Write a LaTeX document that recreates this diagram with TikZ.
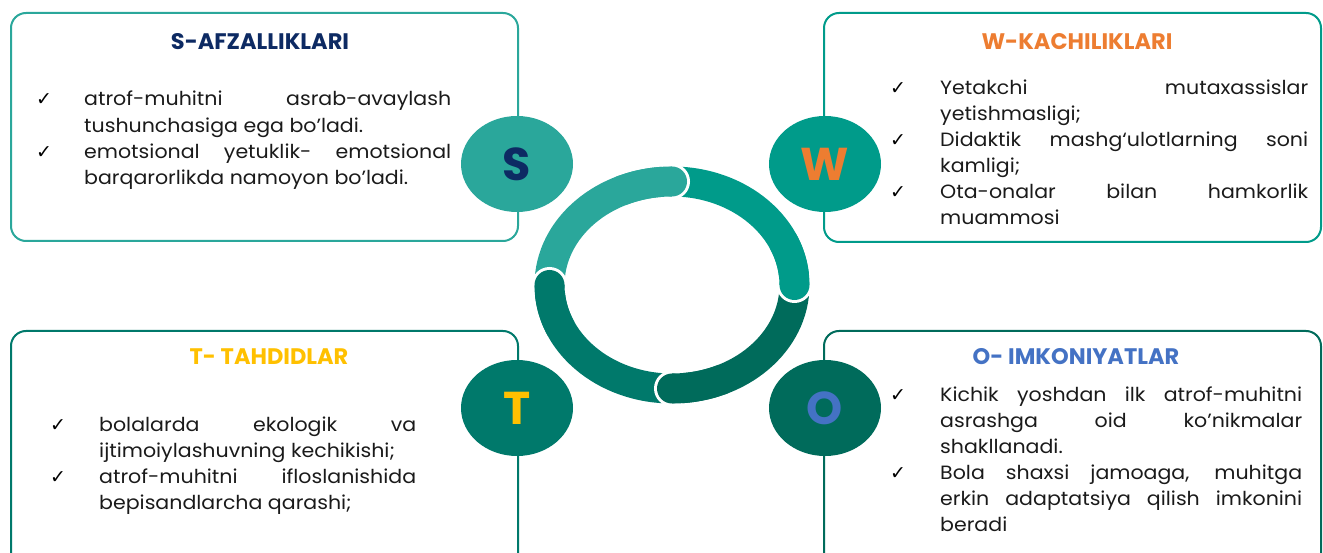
\documentclass[tikz,border=0pt]{standalone}
\usepackage{fontspec}
\setmainfont{Poppins}[Ligatures=NoCommon]
\newfontfamily\bodyfont{Poppins}[Ligatures=NoCommon, FakeStretch=1.07]
\newfontfamily\symfont{DejaVu Sans}
\usetikzlibrary{shapes.geometric}
\definecolor{cS}{HTML}{2AA79B}
\definecolor{cW}{HTML}{009B8A}
\definecolor{cT}{HTML}{00796B}
\definecolor{cO}{HTML}{006B5B}
\definecolor{tS}{HTML}{0D2A63}
\definecolor{tW}{HTML}{ED7D31}
\definecolor{tT}{HTML}{FFC000}
\definecolor{tO}{HTML}{4472C4}
\definecolor{txt}{HTML}{1A1A1A}
\hyphenpenalty=10000
\exhyphenpenalty=10000
\tolerance=10000
\begin{document}
\begin{tikzpicture}[x=1pt,y=-1pt,
  panel/.style={line width=2pt, rounded corners=15pt},
  ttl/.style={font=\fontsize{22.5}{26}\selectfont\bfseries, anchor=base, inner sep=0},
  body/.style={font=\bodyfont\fontsize{19.2}{26.1}\selectfont, text=txt, anchor=base west, inner sep=0, align=justify},
  chk/.style={font=\symfont\fontsize{19}{19}\selectfont, anchor=base, inner sep=0},
  badge/.style={ellipse, minimum width=112pt, minimum height=96pt, inner sep=0, font=\fontsize{46}{46}\selectfont\bfseries},
  seg/.style={line width=30pt}
]
\useasboundingbox (0,0) rectangle (1323,553);
\clip (0,0) rectangle (1323,553);
% panels
\draw[panel, draw=cS] (11,13) rectangle (518,241);
\draw[panel, draw=cW] (824,13) rectangle (1321,242);
\draw[panel, draw=cT] (11,331) rectangle (518,570);
\draw[panel, draw=cO] (824,331) rectangle (1321,570);
% titles
\node[ttl, text=tS] (ts) at (260,50) {S-AFZALLIKLARI};
\node[ttl, text=tW] (tw) at (1077,50) {W-KACHILIKLARI};
\node[ttl, text=tT] (tt) at (269,364) {T- TAHDIDLAR};
\node[ttl, text=tO] (to) at (1076,364) {O- IMKONIYATLAR};
% S items
\node[chk] (cs1) at (44,106) {✓};
\node[body, text width=367pt] (s1) at (84,106) {atrof-muhitni asrab-avaylash\linebreak tushunchasiga ega bo’ladi.};
\node[chk] (cs2) at (44,158.2) {✓};
\node[body, text width=367pt] (s2) at (84,158.2) {emotsional yetuklik- emotsional\linebreak barqarorlikda namoyon bo’ladi.};
% W items
\node[chk] (cw1) at (898,94.5) {✓};
\node[body, text width=368pt] (w1) at (940,94.5) {Yetakchi mutaxassislar\linebreak yetishmasligi;};
\node[chk] (cw2) at (898,146.7) {✓};
\node[body, text width=368pt] (w2) at (940,146.7) {Didaktik mashg‘ulotlarning soni\linebreak kamligi;};
\node[chk] (cw3) at (898,198.9) {✓};
\node[body, text width=368pt] (w3) at (940,198.9) {Ota-onalar bilan hamkorlik\linebreak muammosi};
% T items
\node[chk] (ct1) at (58,431.5) {✓};
\node[body, text width=317pt] (t1) at (99,431.5) {bolalarda ekologik va\linebreak ijtimoiylashuvning kechikishi;};
\node[chk] (ct2) at (58,483.7) {✓};
\node[body, text width=317pt] (t2) at (99,483.7) {atrof-muhitni ifloslanishida\linebreak bepisandlarcha qarashi;};
% O items
\node[chk] (co1) at (898,401) {✓};
\node[body, text width=362pt] (o1) at (940,401) {Kichik yoshdan ilk atrof-muhitni\linebreak asrashga oid ko’nikmalar\linebreak shakllanadi.};
\node[chk] (co2) at (898,479.3) {✓};
\node[body, text width=362pt] (o2) at (940,479.3) {Bola shaxsi jamoaga, muhitga\linebreak erkin adaptatsiya qilish imkonini\linebreak beradi};
% badges
\node[badge, fill=cS, text=tS] (bS) at (517,164) {S};
\node[badge, fill=cW, text=tW] (bW) at (825,164) {W};
\node[badge, fill=cT, text=tT] (bT) at (517,408) {T};
\node[badge, fill=cO, text=tO] (bO) at (825,408) {O};
% ring (centre 672,285; mid radii 122.5 x 103.5)
\def\ra{122.5}\def\rb{103.5}
\coordinate (rc) at (672,285);
\foreach \ang/\col in {180/cS, 270/cW, 0/cO, 90/cT}{
  \draw[seg, \col] ({672+\ra*cos(\ang)},{285+\rb*sin(\ang)}) arc[start angle=\ang, end angle=\ang+90, x radius=\ra, y radius=\rb];
}
% round ends with white rim
\foreach \ang/\col in {270/cS, 360/cW, 90/cO, 180/cT}{
  \fill[white] ({672+\ra*cos(\ang)},{285+\rb*sin(\ang)}) circle (18);
  \fill[\col] ({672+\ra*cos(\ang)},{285+\rb*sin(\ang)}) circle (15);
  \draw[seg, \col] ({672+\ra*cos(\ang-25)},{285+\rb*sin(\ang-25)}) arc[start angle=\ang-25, end angle=\ang, x radius=\ra, y radius=\rb];
}
\end{tikzpicture}
\end{document}
